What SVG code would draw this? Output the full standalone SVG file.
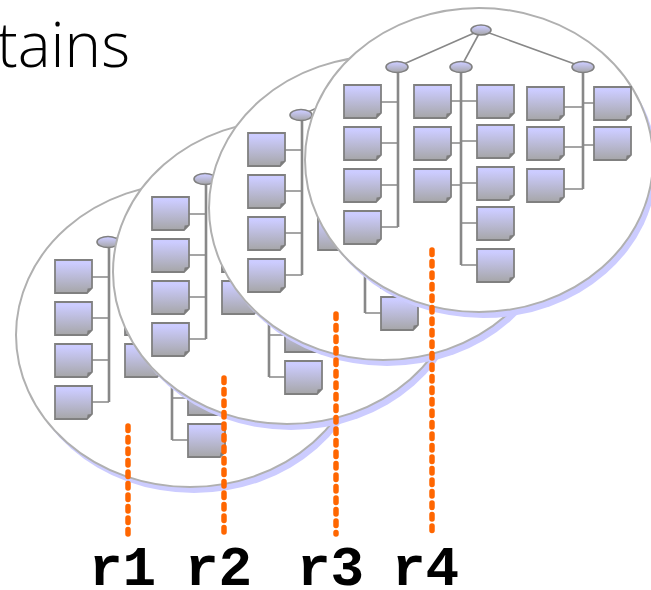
<svg xmlns="http://www.w3.org/2000/svg" width="651" height="590" viewBox="0 0 651 590">
  <style>
    .disc { fill: #ffffff; stroke: #b0b0b0; stroke-width: 2; }
    .shade { fill: #ccccff; }
    .link { fill: none; stroke: #888888; stroke-width: 1.6; }
    .trunk { fill: none; stroke: #888888; stroke-width: 2.6; }
    .knot { fill: url(#lilac); stroke: #808080; stroke-width: 1.6; }
    .leaf { fill: url(#lilac); stroke: #808080; stroke-width: 1.8; }
    .fold { fill: #7c7c7c; }
    .probe { fill: none; stroke: #ff6600; stroke-width: 5.5; stroke-linecap: round; stroke-dasharray: 4.5 7; }
    .tag { font-family: "Liberation Mono", "Courier New", monospace; font-weight: bold; font-size: 56px; fill: #000000; }
    .title { font-family: "Open Sans", "Liberation Sans", sans-serif; font-weight: 300; font-size: 62px; fill: #000000; }
  </style>
  <defs>
    <linearGradient id="lilac" x1="0" y1="0" x2="0" y2="1">
      <stop offset="0.1" stop-color="#ccccff"/>
      <stop offset="1" stop-color="#a6a6a8"/>
    </linearGradient>
    <!-- one leaf page with a dog-eared corner -->
    <g id="box">
      <path class="leaf" d="M0,0 H37 V28 L32,33 H0 Z"/>
      <path class="fold" d="M32,33 L32.6,28.6 L37,28 Z"/>
    </g>
    <!-- a rounded disc holding one version of the tree -->
    <g id="version">
      <ellipse class="shade" cx="483" cy="166" rx="174" ry="152"/>
      <ellipse class="disc" cx="479" cy="160" rx="174" ry="152"/>
      <path class="link" d="M481,30 L397,67 M481,30 L461,67 M481,30 L583,67"/>
      <path class="trunk" d="M398,67 V227 M461,67 V265 M583,67 V189"/>
      <path class="link" d="M381,102 H398 M381,143 H398 M381,185 H398 M381,227 H398
                            M451,101 H461 M451,143 H461 M451,185 H461
                            M461,101 H477 M461,141 H477 M461,183 H477 M461,223 H477 M461,265 H477
                            M564,107 H583 M564,147 H583 M564,189 H583
                            M583,103 H594 M583,145 H594"/>
      <ellipse class="knot" cx="481" cy="30" rx="10" ry="5"/>
      <ellipse class="knot" cx="397" cy="67" rx="11" ry="5.5"/>
      <ellipse class="knot" cx="461" cy="67" rx="11" ry="5.5"/>
      <ellipse class="knot" cx="583" cy="67" rx="11" ry="5.5"/>
      <use href="#box" x="344" y="85"/>
      <use href="#box" x="344" y="127"/>
      <use href="#box" x="344" y="169"/>
      <use href="#box" x="344" y="211"/>
      <use href="#box" x="414" y="85"/>
      <use href="#box" x="414" y="127"/>
      <use href="#box" x="414" y="169"/>
      <use href="#box" x="477" y="85"/>
      <use href="#box" x="477" y="125"/>
      <use href="#box" x="477" y="167"/>
      <use href="#box" x="477" y="207"/>
      <use href="#box" x="477" y="249"/>
      <use href="#box" x="527" y="87"/>
      <use href="#box" x="527" y="127"/>
      <use href="#box" x="527" y="169"/>
      <use href="#box" x="594" y="87"/>
      <use href="#box" x="594" y="127"/>
    </g>
  </defs>

  <text class="title" x="-3" y="67">tains</text>

  <!-- stacked versions, oldest at the back -->
  <g id="version-r1"><use href="#version" transform="translate(-289,175)"/></g>
  <g id="version-r2"><use href="#version" transform="translate(-192,112)"/></g>
  <g id="version-r3"><use href="#version" transform="translate(-96,48)"/></g>
  <g id="version-r4"><use href="#version"/></g>

  <!-- revision markers -->
  <g id="connectors">
    <line class="probe" x1="128" y1="426" x2="128" y2="534"/>
    <line class="probe" x1="224" y1="378" x2="224" y2="534"/>
    <line class="probe" x1="336" y1="314" x2="336" y2="534"/>
    <line class="probe" x1="432" y1="250" x2="432" y2="532"/>
  </g>

  <g id="labels">
    <text class="tag" x="89" y="585">r1</text>
    <text class="tag" x="185" y="585">r2</text>
    <text class="tag" x="297" y="585">r3</text>
    <text class="tag" x="392" y="585">r4</text>
  </g>
</svg>
